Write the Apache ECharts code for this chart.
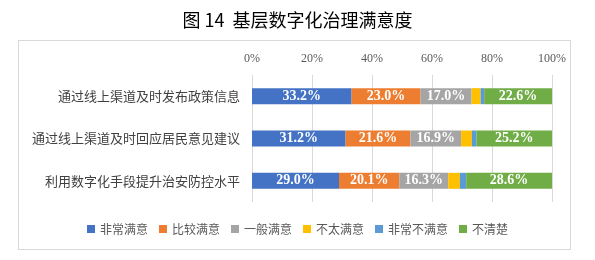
<!DOCTYPE html>
<html>
<head>
    <meta charset="utf-8" />
    <title>基层数字化治理满意度</title>
    <script src="https://cdn.jsdelivr.net/npm/echarts@6/dist/echarts.min.js"></script>
    <style>
        html, body { margin: 0; padding: 0; background: #fff; }
        #frame {
            position: absolute; left: 18px; top: 40px; width: 553px; height: 210px;
            border: 1px solid #d9d9d9; box-sizing: border-box;
        }
        #chart { position: absolute; left: 0; top: 0; width: 595px; height: 260px; }
    </style>
</head>
<body>
    <div id="frame"></div>
    <div id="chart"></div>
    <script>
        var categories = ["通过线上渠道及时发布政策信息", "通过线上渠道及时回应居民意见建议", "利用数字化手段提升治安防控水平"];
        var seriesNames = ["非常满意", "比较满意", "一般满意", "不太满意", "非常不满意", "不清楚"];
        var verySatisfied = [33.2, 31.2, 29.0];
        var fairlySatisfied = [23.0, 21.6, 20.1];
        var average = [17.0, 16.9, 16.3];
        var notVery = [3.0, 3.6, 3.9];
        var veryUnsatisfied = [1.2, 1.5, 2.1];
        var unknown = [22.6, 25.2, 28.6];
        var xTicks = ["0%", "20%", "40%", "60%", "80%", "100%"];

        var colors = ["#4472C4", "#ED7D31", "#A5A5A5", "#FFC000", "#5B9BD5", "#70AD47"];
        var values = [verySatisfied, fairlySatisfied, average, notVery, veryUnsatisfied, unknown];

        var myChart = echarts.init(document.getElementById('chart'));

        var series = [];
        for (var i = 0; i < seriesNames.length; i++) {
            series.push({
                name: seriesNames[i],
                type: "bar",
                stack: "total",
                barWidth: 16,
                data: values[i],
                itemStyle: { color: colors[i] },
                label: {
                    show: true,
                    position: "inside",
                    color: "#fff",
                    fontFamily: "Liberation Serif",
                    fontWeight: "bold",
                    fontSize: 14,
                    formatter: function (p) {
                        return p.value >= 10 ? p.value.toFixed(1) + "%" : "";
                    }
                }
            });
        }

        var option = {
            animation: false,
            title: {
                text: "图 14  基层数字化治理满意度",
                left: "center",
                top: 6,
                textStyle: {
                    fontFamily: "Noto Sans CJK SC",
                    fontSize: 18,
                    fontWeight: "normal",
                    color: "#000"
                }
            },
            legend: {
                bottom: 20,
                left: "center",
                itemWidth: 8,
                itemHeight: 8,
                itemGap: 11,
                icon: "rect",
                textStyle: {
                    fontFamily: "Noto Sans CJK SC",
                    fontSize: 12,
                    color: "#595959"
                },
                data: seriesNames
            },
            grid: {
                left: 252,
                right: 43,
                top: 75,
                bottom: 58
            },
            xAxis: {
                type: "value",
                position: "top",
                min: 0,
                max: 100,
                interval: 20,
                axisLine: { show: false },
                axisTick: { show: false },
                axisLabel: {
                    margin: 10,
                    fontFamily: "Liberation Serif",
                    fontSize: 12,
                    color: "#595959",
                    formatter: function (v) { return xTicks[v / 20]; }
                },
                splitLine: { lineStyle: { color: "#d9d9d9" } }
            },
            yAxis: {
                type: "category",
                inverse: true,
                data: categories,
                axisLine: { show: false },
                axisTick: { show: false },
                axisLabel: {
                    margin: 12,
                    fontFamily: "Noto Sans CJK SC",
                    fontSize: 13,
                    color: "#404040"
                }
            },
            series: series
        };
        myChart.setOption(option);
    </script>
</body>
</html>
